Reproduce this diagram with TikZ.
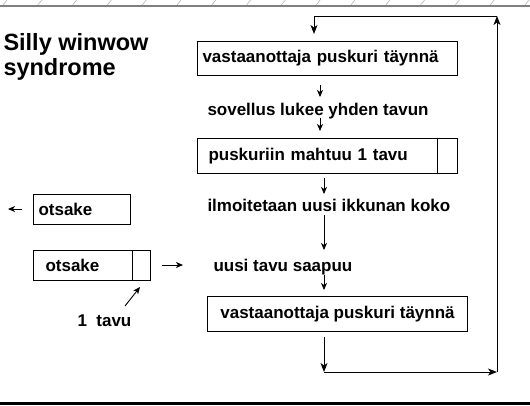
\documentclass[tikz,border=0pt]{standalone}
\usepackage{fontspec}
\setmainfont{Liberation Sans}
\usetikzlibrary{arrows.meta}
\begin{document}
\begin{tikzpicture}[x=1pt,y=-1pt,>={Stealth[length=9pt,width=7pt,inset=2.5pt]},line width=1pt]
            \useasboundingbox (0,0) rectangle (530,405);
            \tikzset{lbl/.style={font=\fontsize{17}{20}\selectfont\bfseries,inner sep=0pt},
                     shortarrow/.style={-{Stealth[length=7pt,width=6pt,inset=2pt]},line width=0.9pt}}
            % frame lines
            \draw[gray,line width=2pt] (0,6) -- (530,6);
            \foreach \i in {0,...,15}
                \draw[gray!55,line width=0.6pt] (3+34.8*\i,5) -- (7+34.8*\i,0);
            \fill (0,401.6) rectangle (530,405);

            \node[anchor=base west,font=\fontsize{23.5}{26}\selectfont\bfseries,inner sep=0pt] (t1) at (3,50) {Silly winwow};
            \node[anchor=base west,font=\fontsize{23.5}{26}\selectfont\bfseries,inner sep=0pt] (t2) at (3,75) {syndrome};

            \begin{scope}[every node/.style={lbl,draw,rectangle,anchor=north west}]
                \node[minimum width=260pt,minimum height=34pt,text width=250pt,inner xsep=5pt,align=left] (b1) at (197,41) {vastaanottaja puskuri täynnä};
                \node[minimum width=260pt,minimum height=35pt,text width=238pt,inner xsep=11pt,align=left] (b2) at (197,138) {puskuriin mahtuu 1 tavu};
                \node[minimum width=260pt,minimum height=35pt,align=center] (b3) at (207,296) {vastaanottaja puskuri täynnä};
                \node[minimum width=97pt,minimum height=30pt,text width=87pt,inner xsep=5pt,align=left] (o1) at (33,194) {otsake};
                \node[minimum width=117pt,minimum height=30pt,text width=93pt,inner xsep=12pt,align=left] (o2) at (33,250) {otsake};
            \end{scope}
            \draw ([xshift=-21pt]b2.north east) -- ([xshift=-21pt]b2.south east);
            \draw ([xshift=-19pt]o2.north east) -- ([xshift=-19pt]o2.south east);

            \node[lbl,anchor=base west] (s1) at (207,115) {sovellus lukee yhden tavun};
            \node[lbl,anchor=base west] (s2) at (207,211) {ilmoitetaan uusi ikkunan koko};
            \node[lbl,anchor=base west] (s3) at (213,271) {uusi tavu saapuu};
            \node[lbl,anchor=base west] (s4) at (77,326) {1\ \ tavu};

            \coordinate (a1) at (320,85);  \coordinate (a2) at (320,97);
            \coordinate (a3) at (320,118); \coordinate (a4) at (320,131);
            \coordinate (a5) at (324,178); \coordinate (a6) at (324,194);
            \coordinate (a7) at (324,215); \coordinate (a8) at (324,250);
            \coordinate (a9) at (324,275); \coordinate (a10) at (324,290);
            \coordinate (c1) at (324,337); \coordinate (c2) at (324,372);
            \coordinate (c3) at (497,372); \coordinate (c4) at (497,16);
            \coordinate (c5) at (314,16);  \coordinate (c6) at (314,34);
            \coordinate (l1) at (22,209);  \coordinate (l2) at (8,209);
            \coordinate (l3) at (162,265); \coordinate (l4) at (183,265);
            \coordinate (l5) at (125,306); \coordinate (l6) at (140,287);

            \draw[shortarrow] (a1) -- (a2);
            \draw[shortarrow] (a3) -- (a4);
            \draw[shortarrow] (a5) -- (a6);
            \draw[shortarrow] (a7) -- (a8);
            \draw[shortarrow] (a9) -- (a10);
            \draw[shortarrow] (l1) -- (l2);
            \draw[shortarrow] (l3) -- (l4);
            \draw[shortarrow] (l5) -- (l6);

            \draw[->] (c1) -- (c2);
            \draw[->] (c2) -- (c3);
            \draw[->] (c3) -- (c4);
            \draw (c4) -- (c5);
            \draw[->] (c5) -- (c6);
        \end{tikzpicture}
\end{document}
